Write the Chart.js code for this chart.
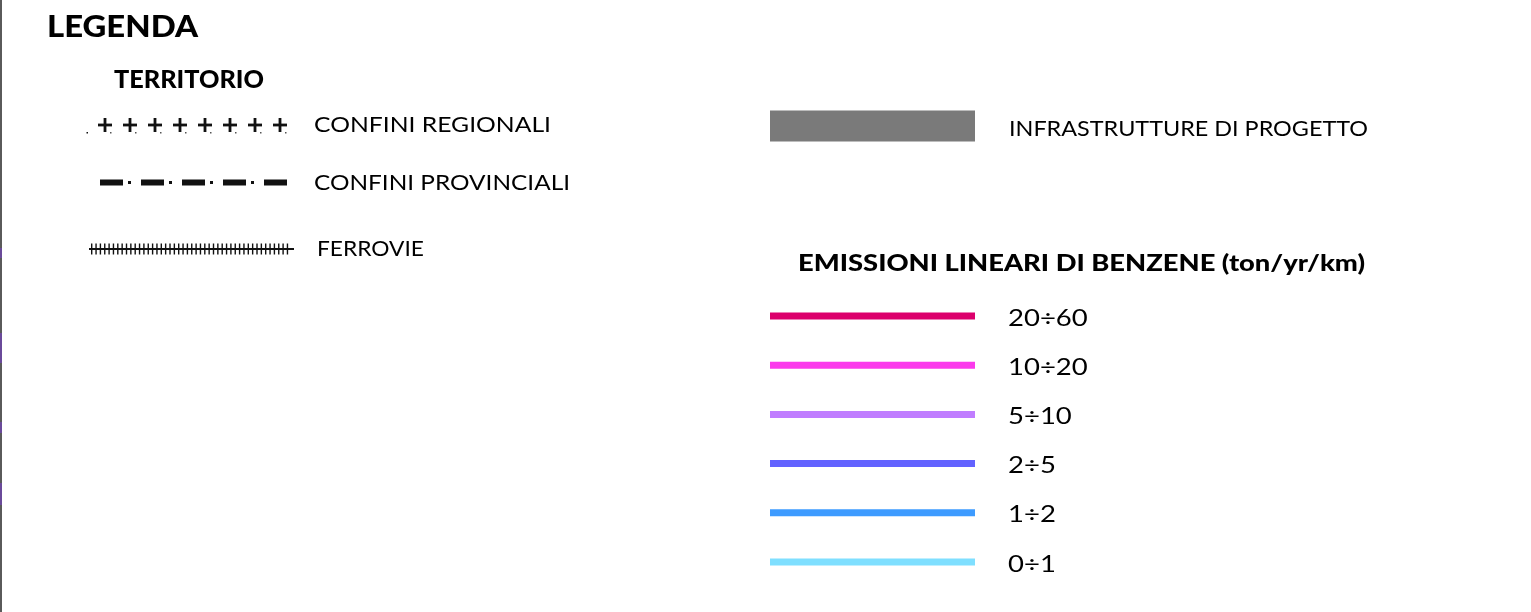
<!DOCTYPE html>
<html>
<head>
<meta charset="utf-8">
<title>Legenda</title>
<script src="https://cdn.jsdelivr.net/npm/chart.js@4/dist/chart.umd.min.js"></script>
<style>
    html, body { margin: 0; padding: 0; background: #fff; }
    #wrap { width: 1531px; height: 612px; position: relative; }
</style>
</head>
<body>
<div id="wrap"><canvas id="myChart" width="1531" height="612"></canvas></div>
<script>
// testi della legenda
let titolo = 'LEGENDA';
let titoloTerritorio = 'TERRITORIO';
let territorioLabels = ['CONFINI REGIONALI', 'CONFINI PROVINCIALI', 'FERROVIE'];
let progettoLabels = ['INFRASTRUTTURE DI PROGETTO'];
let titoloEmissioni = 'EMISSIONI LINEARI DI BENZENE';
let unitaEmissioni = '(ton/yr/km)';

// classi di emissione (ton/yr/km)
let classiMin = [20, 10, 5, 2, 1, 0];
let classiMax = [60, 20, 10, 5, 2, 1];
let classiLabels = classiMin.map((min, i) => min + '\u00F7' + classiMax[i]);

// colori per classe
let classiColori = ['#dc006c', '#fb3aec', '#c07dff', '#6262ff', '#3d9bff', '#7fdfff'];

// layout (pixel)
let campX = [770, 975];            // campione colonna destra
let campSx = [89, 292];            // campione colonna sinistra
let rigaEmissioni = 316;
let passoEmissioni = 49.2;
let righeTerritorio = [125, 182.5, 249];
let rigaProgetto = 126;

let font = 'Lato, "Open Sans", sans-serif';

let ctx = document.getElementById('myChart');

let datasets = [];

// linee emissioni
classiLabels.forEach((lab, i) => {
    let y = rigaEmissioni + i * passoEmissioni;
    datasets.push({
        label: lab,
        data: [{x: campX[0], y: y}, {x: campX[1], y: y}],
        borderColor: classiColori[i],
        borderWidth: 7,
        borderCapStyle: 'butt',
        pointRadius: 0
    });
});

// infrastrutture di progetto
datasets.push({
    label: progettoLabels[0],
    data: [{x: campX[0], y: rigaProgetto}, {x: campX[1], y: rigaProgetto}],
    borderColor: '#7a7a7a',
    borderWidth: 31,
    borderCapStyle: 'butt',
    pointRadius: 0
});
datasets.push({
    label: 'diagonale',
    data: [{x: campX[0], y: rigaProgetto + 15}, {x: campX[1], y: rigaProgetto - 15}],
    borderColor: 'rgba(255,255,255,0.45)',
    borderWidth: 1,
    borderDash: [5, 3],
    pointRadius: 0
});

// confini regionali (croci disegnate dal plugin)
datasets.push({
    label: territorioLabels[0],
    data: [{x: 105, y: righeTerritorio[0]}, {x: 280, y: righeTerritorio[0]}],
    borderColor: 'rgba(0,0,0,0)',
    borderWidth: 0,
    pointRadius: 0,
    simbolo: 'croci',
    passo: 25
});

// confini provinciali: tratto + punto
datasets.push({
    label: territorioLabels[1],
    data: [{x: 100, y: righeTerritorio[1]}, {x: 287, y: righeTerritorio[1]}],
    borderColor: '#111',
    borderWidth: 6,
    borderDash: [23, 18],
    borderCapStyle: 'butt',
    pointRadius: 0
});
datasets.push({
    label: 'punti',
    data: [{x: 100, y: righeTerritorio[1]}, {x: 262, y: righeTerritorio[1]}],
    borderColor: '#111',
    borderWidth: 3,
    borderDash: [3, 38],
    borderDashOffset: 13,
    borderCapStyle: 'butt',
    pointRadius: 0
});

// ferrovie
datasets.push({
    label: territorioLabels[2],
    data: [{x: campSx[0], y: righeTerritorio[2]}, {x: 294, y: righeTerritorio[2]}],
    borderColor: '#111',
    borderWidth: 2,
    pointRadius: 0,
    simbolo: 'binari',
    passo: 4.35
});

// testo allargato fino alla larghezza voluta (il font originale e' piu' largo)
function testo(c, str, x, y, larghezza) {
    let w = c.measureText(str).width;
    c.save();
    c.translate(x, y);
    c.scale(larghezza / w, 1);
    c.fillText(str, 0, 0);
    c.restore();
}

// plugin per simboli e testi
let legendaPlugin = {
    id: 'legendaPlugin',
    afterDatasetsDraw(chart) {
        let c = chart.ctx;
        c.save();

        // bordo sinistro
        c.fillStyle = '#5a5a5a';
        c.fillRect(0, 0, 2, 612);
        c.fillStyle = '#6a4a9a';
        [[248, 10], [333, 30], [422, 11], [483, 22]].forEach(s => c.fillRect(0, s[0], 2, s[1]));

        chart.data.datasets.forEach((ds, i) => {
            if (!ds.simbolo) return;
            let pts = chart.getDatasetMeta(i).data;
            let x0 = pts[0].x, x1 = pts[1].x, y = pts[0].y;
            if (ds.simbolo === 'croci') {
                c.fillStyle = '#111';
                c.fillRect(x0 - 18.5, y + 7, 1.5, 1.5);
                for (let x = x0; x <= x1 + 0.1; x += ds.passo) {
                    c.fillStyle = '#111';
                    c.fillRect(x - 7, y - 1.4, 14, 2.8);
                    c.fillRect(x - 1.4, y - 7, 2.8, 14);
                    c.fillStyle = '#555';
                    c.fillRect(x + 5, y + 7, 1.5, 1.5);
                }
            }
            if (ds.simbolo === 'binari') {
                c.fillStyle = '#111';
                for (let x = x0 + 2; x <= x1 - 4; x += ds.passo) {
                    c.fillRect(x, y - 5.5, 1.4, 11);
                }
            }
        });

        c.fillStyle = '#000';
        c.textBaseline = 'alphabetic';

        c.font = '900 31px ' + font;
        testo(c, titolo, 47, 37, 151);

        c.font = '900 24px ' + font;
        testo(c, titoloTerritorio, 114, 88, 150);

        c.font = '21.5px ' + font;
        testo(c, territorioLabels[0], 314, 132, 237);
        testo(c, territorioLabels[1], 314, 190, 256);
        testo(c, territorioLabels[2], 317, 256, 107);
        testo(c, progettoLabels[0], 1009, 136, 359);

        c.font = '900 23px ' + font;
        testo(c, titoloEmissioni + ' ' + unitaEmissioni, 798, 271, 567);

        c.font = '23.5px ' + font;
        classiLabels.forEach((lab, i) => {
            let w = c.measureText(lab).width * 1.17;
            testo(c, lab, 1008, rigaEmissioni + i * passoEmissioni + 9.5, w);
        });

        c.restore();
    }
};

let myChart = new Chart(ctx, {
    type: 'line',
    data: { datasets: datasets },
    options: {
        responsive: false,
        animation: false,
        layout: { padding: 0 },
        plugins: {
            legend: { display: false },
            tooltip: { enabled: false }
        },
        scales: {
            x: { type: 'linear', min: 0, max: 1531, display: false },
            y: { type: 'linear', min: 0, max: 612, reverse: true, display: false }
        }
    },
    plugins: [legendaPlugin]
});
</script>
</body>
</html>
